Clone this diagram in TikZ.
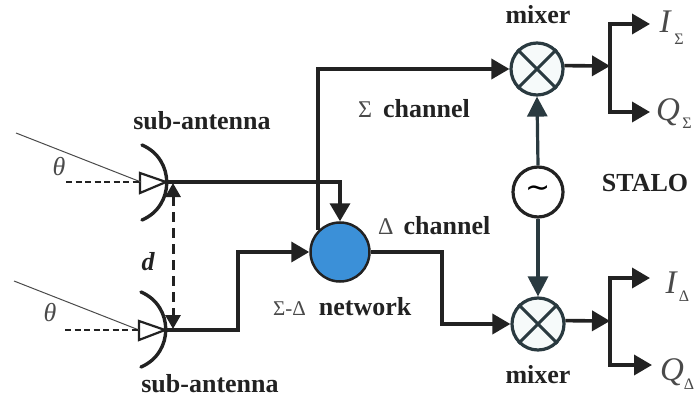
\documentclass[tikz,border=0pt]{standalone}
\usepackage{fontspec}
\setmainfont{Liberation Serif}
\newfontfamily\symfont{DejaVu Sans}
\usetikzlibrary{arrows.meta}
\definecolor{ink}{HTML}{222222}
\definecolor{slateink}{HTML}{2A3A40}
\definecolor{netblue}{HTML}{3B90D8}
\definecolor{faint}{HTML}{4A4A4A}
\definecolor{tint}{HTML}{F6FAFA}
\tikzset{
  x=1pt,y=-1pt,
  wire/.style={line width=3.6pt,draw=ink,line join=miter},
  arr/.style={wire,-{Triangle[length=18pt,width=20pt]}},
  lo/.style={line width=3.2pt,draw=slateink,-{Triangle[length=20pt,width=20pt]}},
  mixerc/.style={circle,draw=slateink,line width=3.2pt,minimum size=52pt,inner sep=0pt,fill=tint},
  oscc/.style={circle,draw=ink,line width=3.2pt,minimum size=50pt,inner sep=0pt,fill=white},
  netc/.style={circle,draw=ink,line width=2.5pt,minimum size=59pt,inner sep=0pt,fill=netblue},
  dish/.style={line width=3.4pt,draw=ink,line cap=round},
  feed/.style={line width=2.2pt,draw=ink,fill=white,line join=miter},
  ray/.style={line width=1pt,draw=faint},
  guide/.style={line width=1.1pt,draw=ink,dash pattern=on 6pt off 3.5pt},
  lab/.style={font=\bfseries\fontsize{26}{28}\selectfont,text=ink,inner sep=0pt},
  sym/.style={font=\itshape\fontsize{26}{28}\selectfont,text=faint,inner sep=0pt},
  big/.style={font=\itshape\fontsize{33}{35}\selectfont,text=faint,inner sep=0pt},
  sub/.style={font=\fontsize{16}{17}\selectfont,text=faint,inner sep=0pt}
}
\newcommand{\mixcross}[1]{%
  \draw[line width=3pt,draw=slateink] (#1.45) -- (#1.225) (#1.135) -- (#1.315);}
\newcommand{\greek}[2]{\textcolor{faint}{\mdseries\fontsize{#1}{#1}\selectfont #2}}
\begin{document}
\begin{tikzpicture}
\useasboundingbox (0,0) rectangle (695,398);
% antennas
\coordinate (dishA) at (166,182);
\coordinate (dishB) at (165,330);
\coordinate (rayA) at (16,133);
\coordinate (rayB) at (14,281);
\coordinate (hA) at (66,182);
\coordinate (hB) at (65,330);
\coordinate (feedA) at (141,182);
\coordinate (feedB) at (139,330);
\draw[dish] (142,145) .. controls (175,159) and (175,206) .. (142,220);
\draw[dish] (141,292) .. controls (174,306) and (174,353) .. (141,367);
\draw[feed] (140,173) -- (dishA) -- (140,193) -- cycle;
\draw[feed] (139,321) -- (dishB) -- (139,340) -- cycle;
\draw[ray] (rayA) -- (feedA);
\draw[ray] (rayB) -- (feedB);
\draw[guide] (hA) -- (feedA);
\draw[guide] (hB) -- (feedB);
\node[sym] (tA) at (59,167) {θ};
\node[sym] (tB) at (50,313) {θ};
% nodes
\node[netc] (net) at (340,252) {};
\node[mixerc] (mixT) at (537,69) {};
\node[mixerc] (mixB) at (538,324) {};
\node[oscc] (osc) at (538,192) {\symfont\fontsize{30}{30}\selectfont ∼};
\mixcross{mixT}\mixcross{mixB}
% wires
\coordinate (kneeB) at (238,330);
\coordinate (kneeD) at (442,290);
\draw[arr] (dishA) -| (net.north);
\draw[arr] (dishB) -- (kneeB) |- (net.west);
\draw[arr] (net.135) |- (mixT.west);
\draw[arr] (net.east) -| (kneeD) |- (mixB.west);
\draw[lo] (osc.north) -- (mixT.south);
\draw[lo] (osc.south) -- (mixB.north);
\coordinate (dTop) at (173,183);
\coordinate (dBot) at (173,329);
\draw[line width=3pt,draw=ink,{Triangle[length=14pt,width=15pt]}-{Triangle[length=14pt,width=15pt]},dash pattern=on 10pt off 6pt] (dTop) -- (dBot);
% outputs
\coordinate (jT) at (610,66);
\coordinate (jB) at (610,321);
\coordinate (iT) at (650,24);
\coordinate (qT) at (650,112);
\coordinate (iB) at (650,278);
\coordinate (qB) at (652,365);
\draw[arr] (mixT.7) -- (jT);
\draw[arr] (mixB.7) -- (jB);
\draw[arr] (jT) |- (iT);
\draw[arr] (jT) |- (qT);
\draw[arr] (jB) |- (iB);
\draw[arr] (jB) |- (qB);
% labels
\node[lab] (l1) at (538,15) {mixer};
\node[lab] (l2) at (538,375) {mixer};
\node[lab] (l3) at (202,121) {sub-antenna};
\node[lab] (l4) at (210,384) {sub-antenna};
\node[lab] (l5) at (645,183) {STALO};
\node[lab,anchor=base west] (l6) at (358,118) {\greek{24}{Σ}\hspace{11pt}channel};
\node[lab,anchor=base west] (l7) at (378,234) {\greek{24}{Δ}\hspace{10pt}channel};
\node[lab,anchor=base west] (l8) at (273,315) {\greek{21}{Σ-Δ}\hspace{13pt}network};
\node[lab,font=\bfseries\itshape\fontsize{26}{28}\selectfont] (l9) at (148,262) {d};
\node[big] (i1) at (665,22) {I};
\node[sub] (i1s) at (679,39) {Σ};
\node[big] (q1) at (668,112) {Q};
\node[sub] (q1s) at (687,123) {Σ};
\node[big] (i2) at (671,283) {I};
\node[sub] (i2s) at (684,296) {Δ};
\node[big] (q2) at (672,372) {Q};
\node[sub] (q2s) at (689,384) {Δ};
\end{tikzpicture}
\end{document}
